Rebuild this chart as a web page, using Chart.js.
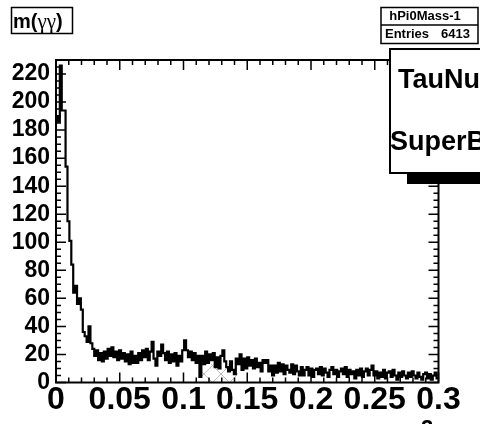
<!DOCTYPE html>
<html>
<head>
<meta charset="utf-8">
<script src="https://cdn.jsdelivr.net/npm/chart.js@4.4.0/dist/chart.umd.min.js"></script>
<style>
  html, body { margin: 0; padding: 0; background: #fff; overflow: hidden; }
  #wrap { position: relative; width: 480px; height: 424px; }
</style>
</head>
<body>
<div id="wrap"><canvas id="c" width="480" height="424"></canvas></div>
<script>
// Histogram description
const histName = 'hPi0Mass-1';
const entries = 6413;
const titleParts = ['m(', 'γγ', ')'];
const paveLines = ['TauNu', 'SuperB'];
const xRange = [0, 0.3];
const nBins = 200;
const yMax = 230;
const xTickLabels = ['0', '0.05', '0.1', '0.15', '0.2', '0.25', '0.3'];
const yTickStep = 20;

// Bin contents, one per bin from low to high edge
const counts = [
  190, 186, 226, 194, 194, 154, 115, 101, 84, 64,
  69, 56, 60, 52, 36, 33, 29, 40, 28, 24,
  19, 23, 16, 21, 15, 22, 17, 24, 19, 25,
  18, 22, 16, 23, 17, 21, 15, 20, 13, 22,
  14, 19, 14, 21, 16, 23, 18, 24, 16, 22,
  29, 17, 12, 22, 19, 27, 21, 16, 22, 14,
  20, 15, 21, 12, 19, 15, 23, 30, 23, 18,
  22, 16, 21, 14, 19, 4, 19, 13, 22, 14,
  20, 16, 21, 11, 18, 10, 19, 23, 15, 11,
  8, 15, 9, 6, 17, 13, 20, 9, 17, 10,
  18, 12, 16, 10, 17, 11, 14, 8, 16, 14,
  16, 8, 12, 5, 12, 7, 14, 8, 13, 6,
  12, 9, 7, 13, 6, 12, 8, 5, 11, 5,
  9, 11, 5, 10, 4, 9, 10, 6, 11, 5,
  10, 7, 4, 9, 11, 6, 9, 4, 8, 10,
  6, 11, 4, 9, 6, 8, 3, 9, 5, 10,
  4, 8, 10, 5, 9, 12, 5, 8, 3, 7,
  4, 9, 3, 7, 8, 4, 9, 5, 2, 7,
  4, 8, 5, 3, 7, 4, 8, 5, 3, 7,
  4, 2, 6, 7, 3, 6, 2, 5, 7, 3
];

// Hatched overlay histogram: bins [first, last] with a common content
const shadedBinRange = [76, 94];
const shadedCount = 13;

const binWidth = (xRange[1] - xRange[0]) / nBins;

// Step points at lower bin edges, closing at the upper edge of the last bin
function stepPoints(values) {
  const pts = values.map((v, i) => ({ x: xRange[0] + i * binWidth, y: v }));
  pts.push({ x: xRange[1], y: values[values.length - 1] });
  return pts;
}

const shadedValues = counts.map((_, i) =>
  (i >= shadedBinRange[0] && i <= shadedBinRange[1]) ? shadedCount : 0);

const canvas = document.getElementById('c');
const ctx = canvas.getContext('2d');

function crossHatch() {
  const p = document.createElement('canvas');
  p.width = 17; p.height = 17;
  const g = p.getContext('2d');
  g.strokeStyle = '#bdbdbd';
  g.lineWidth = 1;
  g.beginPath();
  g.moveTo(0, 0); g.lineTo(17, 17);
  g.moveTo(17, 0); g.lineTo(0, 17);
  g.stroke();
  return ctx.createPattern(p, 'repeat');
}

const FONT = "'Liberation Sans', Arial, Helvetica, sans-serif";
const SERIF = "'Liberation Serif', 'DejaVu Serif', serif";

// Frame with inward ROOT-style ticks on all four sides
const framePlugin = {
  id: 'rootFrame',
  afterDatasetsDraw(chart) {
    const { ctx, chartArea: a, scales: { x, y } } = chart;
    ctx.save();
    ctx.strokeStyle = '#000';
    ctx.lineWidth = 1.5;
    ctx.beginPath();
    for (let v = 0; v <= yMax + 1e-9; v += 5) {
      const py = y.getPixelForValue(v);
      const len = (v % yTickStep === 0) ? 10 : 5;
      ctx.moveTo(a.left, py); ctx.lineTo(a.left + len, py);
      ctx.moveTo(a.right, py); ctx.lineTo(a.right - len, py);
    }
    for (let k = 0; k <= 30; k++) {
      const px = x.getPixelForValue(xRange[0] + k * 0.01);
      const len = (k % 5 === 0) ? 10 : 5;
      ctx.moveTo(px, a.bottom); ctx.lineTo(px, a.bottom - len);
      ctx.moveTo(px, a.top); ctx.lineTo(px, a.top + len);
    }
    ctx.stroke();
    ctx.lineWidth = 2;
    ctx.strokeRect(a.left, a.top, a.right - a.left, a.bottom - a.top);
    ctx.restore();
  },
  afterDraw(chart) {
    const ctx = chart.ctx;
    ctx.save();
    ctx.strokeStyle = '#000';

    // Title box
    ctx.lineWidth = 1.5;
    ctx.fillStyle = '#fff';
    ctx.fillRect(11.5, 7.5, 61, 26);
    ctx.strokeRect(11.5, 7.5, 61, 26);
    ctx.fillStyle = '#000';
    ctx.textBaseline = 'alphabetic';
    ctx.textAlign = 'left';
    let tx = 13;
    const fonts = ['bold 20px ' + FONT, '21px ' + SERIF, 'bold 20px ' + FONT];
    titleParts.forEach((part, i) => {
      ctx.font = fonts[i];
      ctx.fillText(part, tx, 28);
      tx += ctx.measureText(part).width;
    });

    // Statistics box
    ctx.fillStyle = '#fff';
    ctx.fillRect(381, 7.5, 97, 36);
    ctx.strokeRect(381, 7.5, 97, 36);
    ctx.beginPath(); ctx.moveTo(381, 25); ctx.lineTo(478, 25); ctx.stroke();
    ctx.fillStyle = '#000';
    ctx.textBaseline = 'middle';
    ctx.font = 'bold 13px ' + FONT;
    ctx.textAlign = 'center';
    ctx.fillText(histName, 425, 16.5);
    ctx.textAlign = 'left';
    ctx.fillText('Entries', 385, 34);
    ctx.textAlign = 'right';
    ctx.fillText(String(entries), 470, 34);

    // Text pave with shadow
    ctx.fillStyle = '#000';
    ctx.fillRect(407, 173, 80, 11);
    ctx.fillStyle = '#fff';
    ctx.fillRect(390, 49, 100, 124);
    ctx.lineWidth = 2;
    ctx.strokeRect(390, 49, 100, 124);
    ctx.fillStyle = '#000';
    ctx.font = 'bold 27px ' + FONT;
    ctx.textAlign = 'left';
    ctx.fillText(paveLines[0], 398, 81);
    ctx.fillText(paveLines[1], 390, 143);

    // X axis title (mostly below the visible area)
    ctx.textAlign = 'center';
    ctx.textBaseline = 'alphabetic';
    ctx.font = 'bold 32px ' + FONT;
    ctx.fillText('GeV/c', 380, 452);
    ctx.font = 'bold 22px ' + FONT;
    ctx.fillText('2', 427, 435);
    ctx.restore();
  }
};

new Chart(ctx, {
  type: 'line',
  data: {
    datasets: [
      {
        data: stepPoints(counts),
        stepped: true,
        borderColor: '#000',
        borderWidth: 2.2,
        pointRadius: 0,
        fill: false
      },
      {
        data: stepPoints(shadedValues),
        stepped: true,
        borderColor: 'rgba(0,0,0,0)',
        borderWidth: 0,
        pointRadius: 0,
        backgroundColor: crossHatch(),
        fill: 'origin'
      }
    ]
  },
  options: {
    responsive: false,
    animation: false,
    devicePixelRatio: 1,
    layout: { padding: { top: 60, right: 41.5, left: 0, bottom: 0 } },
    plugins: { legend: { display: false }, tooltip: { enabled: false } },
    scales: {
      x: {
        type: 'linear',
        min: xRange[0],
        max: xRange[1],
        grid: { display: false, drawTicks: false },
        border: { display: false },
        afterFit: (s) => { s.height = 41.5; },
        ticks: {
          stepSize: 0.05,
          autoSkip: false,
          maxRotation: 0,
          includeBounds: false,
          padding: 2,
          color: '#000',
          font: { family: FONT, size: 32, weight: 'bold', lineHeight: 1 },
          callback: (v, i) => xTickLabels[i]
        }
      },
      y: {
        min: 0,
        max: yMax,
        grid: { display: false, drawTicks: false },
        border: { display: false },
        afterFit: (s) => { s.width = 56; },
        ticks: {
          stepSize: yTickStep,
          includeBounds: false,
          padding: 6,
          color: '#000',
          font: { family: FONT, size: 23, weight: 'bold', lineHeight: 1 },
          callback: (v) => String(v)
        }
      }
    }
  },
  plugins: [framePlugin]
});
</script>
</body>
</html>
